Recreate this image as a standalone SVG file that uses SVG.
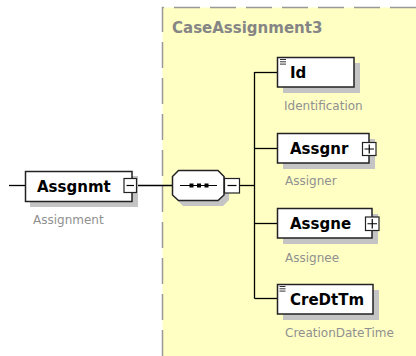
<svg xmlns="http://www.w3.org/2000/svg" width="416" height="356" viewBox="0 0 416 356">
<style>
.bg{fill:#fff}
.panel{fill:#FFFFC4;stroke:none}
.pborder{fill:none;stroke:#999;stroke-width:1.5;stroke-dasharray:26 10}
.title{font-family:"DejaVu Sans",sans-serif;font-weight:bold;font-size:15px;fill:#858585}
.box{fill:#fff;stroke:#222;stroke-width:1.5}
.shadow{fill:#c4c4c4}
.name{font-family:"DejaVu Sans",sans-serif;font-weight:bold;font-size:15px;fill:#000}
.label{font-family:"DejaVu Sans",sans-serif;font-size:12px;fill:#909090}
.btn{fill:#fff;stroke:#222;stroke-width:1.2}
.sym{stroke:#000;stroke-width:1.2;fill:none}
.line{stroke:#000;stroke-width:1.3;fill:none}
.icon{stroke:#333;stroke-width:1;fill:none}
</style>
<rect class="bg" x="0" y="0" width="416" height="356"/>
<g id="panel">
<rect class="panel" x="162.5" y="7.5" width="254" height="349"/>
<path class="pborder" d="M162.5,356 L162.5,7.5 L416,7.5"/>
<text class="title" x="172" y="33">CaseAssignment3</text>
</g>
<g id="connectors">
<line class="line" x1="9" y1="185.5" x2="25" y2="185.5"/>
<line class="line" x1="137" y1="185.5" x2="172" y2="185.5"/>
<line class="line" x1="240" y1="185.5" x2="254.5" y2="185.5"/>
<line class="line" x1="254.5" y1="72" x2="254.5" y2="298.5"/>
<line class="line" x1="254.5" y1="72.5" x2="277" y2="72.5"/>
<line class="line" x1="254.5" y1="148.5" x2="277" y2="148.5"/>
<line class="line" x1="254.5" y1="223.5" x2="277" y2="223.5"/>
<line class="line" x1="254.5" y1="298.5" x2="277" y2="298.5"/>
</g>
<g id="Assgnmt">
<rect class="shadow" x="30" y="176" width="108" height="31"/>
<rect class="box" x="25.5" y="171.5" width="106.5" height="30"/>
<text class="name" x="37" y="191.5">Assgnmt</text>
<rect class="btn" x="124" y="178.5" width="12.5" height="14"/>
<line class="sym" x1="126.5" y1="185.5" x2="134" y2="185.5"/>
<text class="label" x="33" y="224">Assignment</text>
</g>
<g id="sequence">
<polygon class="shadow" points="183,175 223,175 229,181 229,200 223,206 183,206 177,200 177,181"/>
<polygon class="box" points="178.5,170.5 218,170.5 224,176.5 224,195 218,200.5 178.5,200.5 172.5,195 172.5,176.5"/>
<line class="sym" x1="180" y1="185.5" x2="217" y2="185.5"/>
<rect x="189.5" y="183.5" width="4" height="4" fill="#000"/>
<rect x="197" y="183.5" width="4" height="4" fill="#000"/>
<rect x="204.5" y="183.5" width="4" height="4" fill="#000"/>
<rect class="btn" x="224.5" y="178.5" width="15" height="14.5"/>
<line class="sym" x1="227.5" y1="185.5" x2="236.5" y2="185.5"/>
</g>
<g id="Id">
<rect class="shadow" x="283" y="63" width="77" height="30"/>
<rect class="box" x="277.5" y="57.5" width="76.5" height="29.5"/>
<path class="icon" d="M280,59.5h6M280,61.8h6M280,64.1h6"/>
<text class="name" x="290" y="77.5">Id</text>
<text class="label" x="284" y="110">Identification</text>
</g>
<g id="Assgnr">
<rect class="shadow" x="283" y="139" width="92" height="30"/>
<rect class="box" x="277.5" y="133.5" width="91.5" height="29.5"/>
<text class="name" x="290" y="153.5">Assgnr</text>
<rect class="btn" x="362.5" y="142.5" width="13.5" height="13"/>
<path class="sym" d="M364.5,149h9.5M369.25,144.5v9"/>
<text class="label" x="285" y="185">Assigner</text>
</g>
<g id="Assgne">
<rect class="shadow" x="283" y="214" width="95" height="30"/>
<rect class="box" x="277.5" y="208.5" width="94.5" height="29.5"/>
<text class="name" x="290" y="228.5">Assgne</text>
<rect class="btn" x="365.5" y="217" width="13.5" height="13.5"/>
<path class="sym" d="M367.5,223.75h9.5M372.25,219v9.5"/>
<text class="label" x="285" y="261.5">Assignee</text>
</g>
<g id="CreDtTm">
<rect class="shadow" x="283" y="290" width="96" height="30"/>
<rect class="box" x="277.5" y="284.5" width="95.5" height="29.5"/>
<path class="icon" d="M279.5,286.5h6M279.5,288.8h6M279.5,291.1h6"/>
<text class="name" x="290" y="304.5">CreDtTm</text>
<text class="label" x="285" y="337">CreationDateTime</text>
</g>
</svg>
